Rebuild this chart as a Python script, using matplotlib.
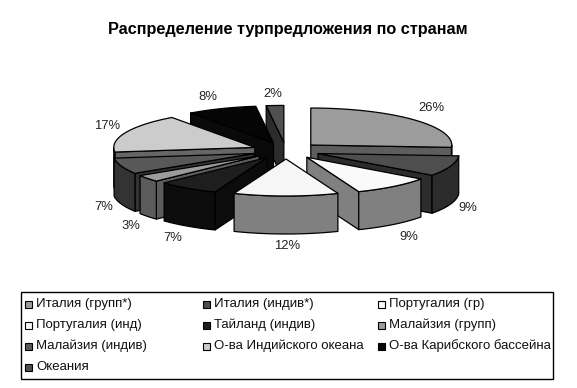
import numpy as np
import matplotlib
matplotlib.use("Agg")
import matplotlib.pyplot as plt
from matplotlib.patches import Polygon, Rectangle

plt.rcParams['font.family'] = ['Liberation Sans', 'DejaVu Sans']

categories = ['Италия (групп*)', 'Италия (индив*)', 'Португалия (гр)',
              'Португалия (инд)', 'Тайланд (индив)', 'Малайзия (групп)',
              'Малайзия (индив)', 'О-ва Индийского океана', 'О-ва Карибского бассейна',
              'Океания']
values = [26, 9, 9, 12, 7, 3, 7, 17, 8, 2]

top_colors = ['#9c9c9c', '#4e4e4e', '#fafafa', '#f6f6f6', '#1e1e1e',
              '#9c9c9c', '#585858', '#cccccc', '#050505', '#505050']
side_colors = ['#5e5e5e', '#2c2c2c', '#808080', '#808080', '#0c0c0c',
               '#5c5c5c', '#333333', '#666666', '#0a0a0a', '#2c2c2c']

label_pos = [(431, 108), (468, 208), (409, 237), (287, 246), (173, 238),
             (131, 226), (104, 207), (107, 126), (208, 97), (273, 94)]

# pie geometry in pixels
cx, cy = 286, 150.7
rx, ry = 141, 37
ex, ey = 34, 8.3
depth = 38

fig = plt.figure(figsize=(5.77, 3.88), dpi=100, facecolor='white')
ax = fig.add_axes([0, 0, 1, 1])
ax.set_xlim(0, 577)
ax.set_ylim(388, 0)
ax.axis('off')


def draw_wedge(start, end, top, side):
    mid = (start + end) / 2
    ax0 = cx + ex * np.sin(mid)
    ay0 = cy - ey * np.cos(mid)
    t = np.linspace(start, end, 40)
    x = ax0 + rx * np.sin(t)
    y = ay0 - ry * np.cos(t)
    kw = dict(edgecolor='black', linewidth=0.9, joinstyle='round')
    # radial faces looking at the viewer
    if np.sin(start) < -1e-6:
        ax.add_patch(Polygon([(ax0, ay0), (x[0], y[0]), (x[0], y[0] + depth), (ax0, ay0 + depth)],
                             facecolor=side, **kw))
    if np.sin(end) > 1e-6:
        ax.add_patch(Polygon([(ax0, ay0), (x[-1], y[-1]), (x[-1], y[-1] + depth), (ax0, ay0 + depth)],
                             facecolor=side, **kw))
    # outer wall, front half only
    lo, hi = max(start, np.pi / 2), min(end, 3 * np.pi / 2)
    if hi > lo:
        w = np.linspace(lo, hi, 40)
        wx = ax0 + rx * np.sin(w)
        wy = ay0 - ry * np.cos(w)
        pts = list(zip(wx, wy)) + list(zip(wx[::-1], wy[::-1] + depth))
        ax.add_patch(Polygon(pts, facecolor=side, **kw))
    ax.add_patch(Polygon([(ax0, ay0)] + list(zip(x, y)), facecolor=top, **kw))


edges = np.cumsum([0] + values) / sum(values) * 2 * np.pi
mids = (edges[:-1] + edges[1:]) / 2
# back slices first
for i in np.argsort(-np.cos(mids)):
    draw_wedge(edges[i], edges[i + 1], top_colors[i], side_colors[i])

for v, (lx, ly) in zip(values, label_pos):
    ax.text(lx, ly, '{}%'.format(v), fontsize=9.4, color='#222222', ha='center', va='center')

ax.text(288, 29.5, 'Распределение турпредложения по странам', fontsize=11.7,
        fontweight='bold', ha='center', va='center', color='black')

# legend box
ax.add_patch(Rectangle((21, 292), 532, 87, facecolor='white', edgecolor='black', linewidth=1))
col_x = [25, 203, 378]
row_y = [304, 325, 346, 367]
for i, name in enumerate(categories):
    lx = col_x[i % 3]
    ly = row_y[i // 3]
    ax.add_patch(Rectangle((lx, ly - 3.5), 7, 7, facecolor=top_colors[i], edgecolor='black', linewidth=0.8))
    ax.text(lx + 11, ly, name, fontsize=9.5, color='#111111', ha='left', va='center')

fig.savefig('out.png', dpi=100, facecolor='white')
